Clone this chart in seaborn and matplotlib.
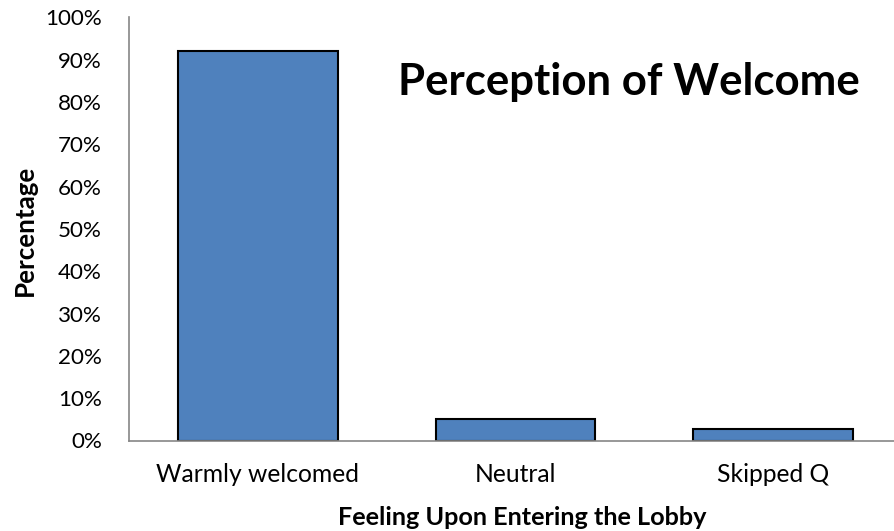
import matplotlib
matplotlib.use("Agg")
import matplotlib.pyplot as plt
import seaborn as sns
import pandas as pd
from matplotlib.ticker import FixedLocator

categories = ["Warmly welcomed", "Neutral", "Skipped Q"]
values = [92.1, 5.15, 2.65]
yticks = list(range(0, 101, 10))
ytick_labels = [f"{t}%" for t in yticks]

sns.set_theme(style="white")
plt.rcParams['font.family'] = ['Lato', 'DejaVu Sans']
plt.rcParams['text.color'] = 'black'
plt.rcParams['axes.labelcolor'] = 'black'
plt.rcParams['xtick.color'] = 'black'
plt.rcParams['ytick.color'] = 'black'

df = pd.DataFrame({"cat": categories, "val": values})

DPI = 100
fig = plt.figure(figsize=(8.95, 5.31), dpi=DPI)
W, H = 895, 531
left, right, bottom, top = 129, 895, 440.5, 17.3
ax = fig.add_axes([left / W, 1 - bottom / H, (right - left) / W, (bottom - top) / H])

sns.barplot(data=df, x="cat", y="val", ax=ax, color="#4F81BD", saturation=1,
            width=0.62, edgecolor="black", linewidth=1.5)

ax.set_xlim(-0.5, -0.5 + (right - left) / 257.6)
ax.set_ylim(0, 100)
ax.set_yticks(yticks)
ax.set_yticklabels(ytick_labels, fontsize=17)
ax.xaxis.set_major_locator(FixedLocator([0, 1, 2]))
ax.set_xticklabels(categories, fontsize=17)
ax.xaxis.set_minor_locator(FixedLocator([-0.5, 0.5, 1.5]))
ax.tick_params(axis="x", which="minor", length=5.5, color="#868686", width=1.2, direction="out")
ax.tick_params(axis="y", length=5.5, color="#868686", width=1.2, direction="out", pad=14)

for s in ["top", "right"]:
    ax.spines[s].set_visible(False)
for s in ["left", "bottom"]:
    ax.spines[s].set_color("#868686")
    ax.spines[s].set_linewidth(1.2)

ax.set_xlabel("")
ax.set_ylabel("")

xlab = fig.text(522 / W, 1 - 525 / H, "Feeling Upon Entering the Lobby", fontsize=20,
                fontweight="bold", ha="center", va="baseline")
ylab = fig.text(33 / W, 1 - 230.5 / H, "Percentage", fontsize=20, fontweight="bold",
                ha="center", va="baseline", rotation=90, rotation_mode="anchor")
title = fig.text(398 / W, 1 - 95 / H, "Perception of Welcome", fontsize=32, fontweight="bold",
                 ha="left", va="baseline")

# fit font sizes to the measured widths in the reference
fig.canvas.draw()
r = fig.canvas.get_renderer()

def scale_for(t, target, use_height=False):
    bb = t.get_window_extent(r)
    w = bb.height if use_height else bb.width
    return t.get_fontsize() * target / w

xticklabels = ax.get_xticklabels()
yticklabels = ax.get_yticklabels()
fx = scale_for(xticklabels[0], 203)
fy = scale_for(yticklabels[-1], 57)
for t in xticklabels:
    t.set_fontsize(fx)
    t.set_va("baseline")
for t in yticklabels:
    t.set_fontsize(fy)
xlab.set_fontsize(scale_for(xlab, 370))
ylab.set_fontsize(scale_for(ylab, 131, use_height=True))
title.set_fontsize(scale_for(title, 462))

# x tick label baseline at ~482 px
ax.tick_params(axis="x", which="major", length=0, pad=(482 - bottom) * 72 / DPI)

fig.canvas.draw()
bb = ax.get_yticklabels()[-1].get_window_extent(r)
cur_right = bb.x1
target_right = 102
pad_now = 14
ax.tick_params(axis="y", pad=pad_now + (cur_right - target_right) * 72 / DPI)

fig.savefig("out.png", dpi=DPI)
